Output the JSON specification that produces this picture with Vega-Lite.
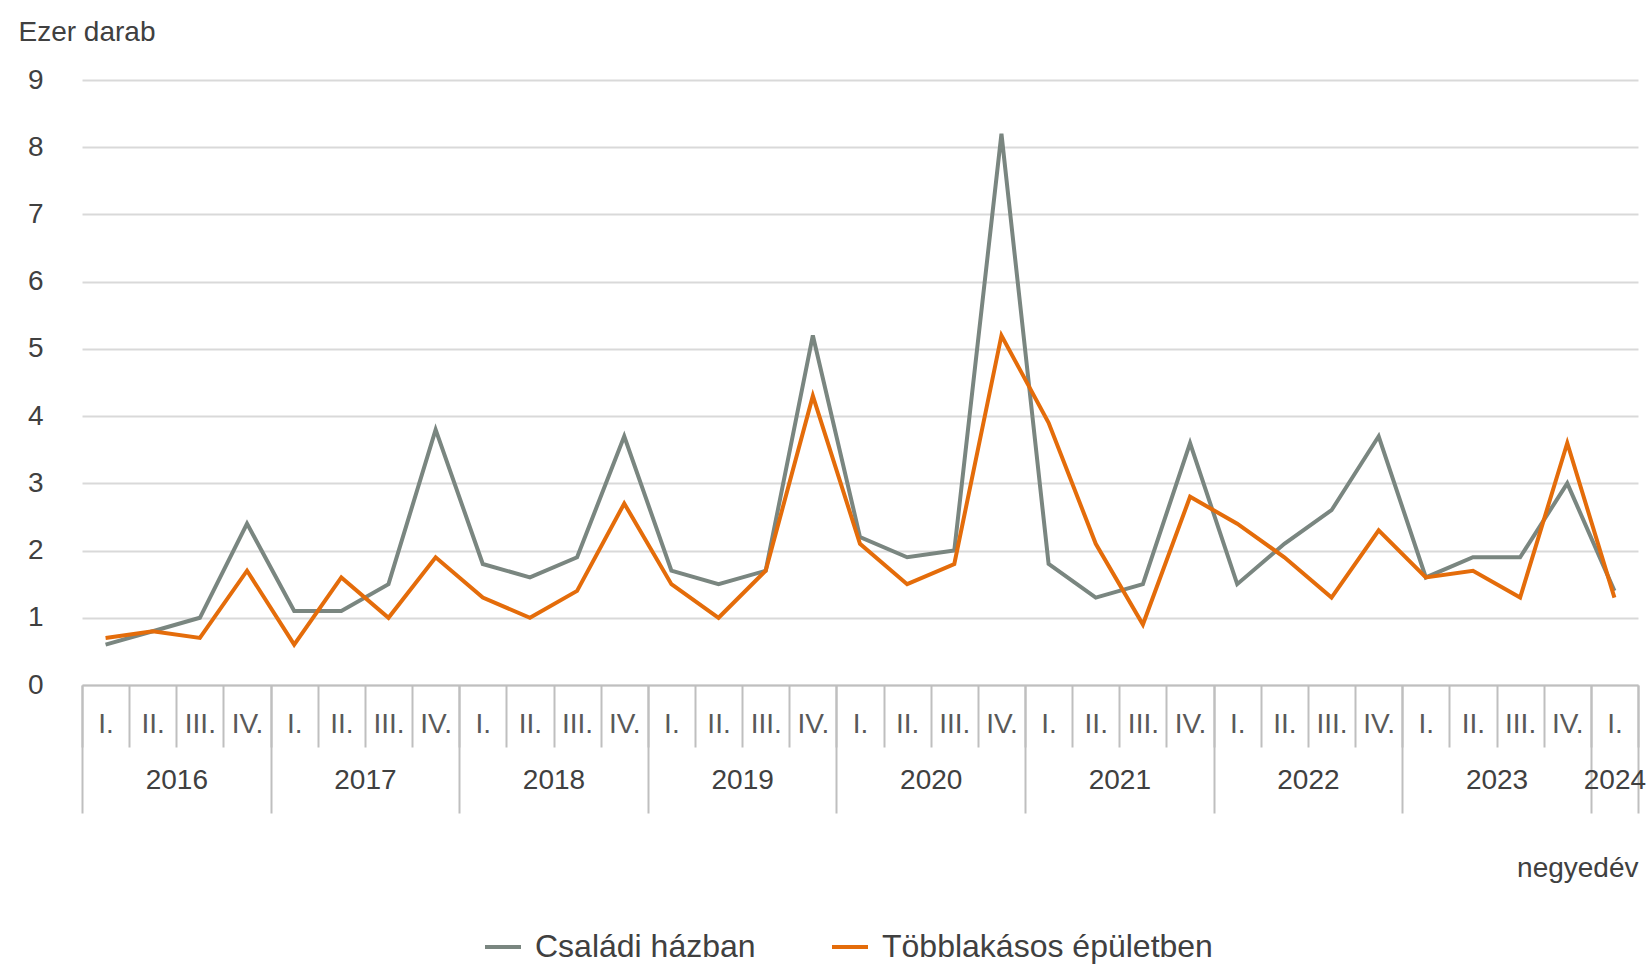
{
  "$schema": "https://vega.github.io/schema/vega-lite/v6.json",
  "width": 1556,
  "height": 605,
  "autosize": {"type": "none"},
  "padding": {"left": 82, "top": 80, "right": 10, "bottom": 286},
  "background": "#ffffff",
  "config": {
    "font": "Liberation Sans",
    "view": {"stroke": null},
    "axis": {"labelFont": "Liberation Sans", "titleFont": "Liberation Sans"}
  },
  "data": {
    "values": [
      {"i": 0, "sorozat": "Családi házban", "ertek": 0.6},
      {"i": 1, "sorozat": "Családi házban", "ertek": 0.8},
      {"i": 2, "sorozat": "Családi házban", "ertek": 1.0},
      {"i": 3, "sorozat": "Családi házban", "ertek": 2.4},
      {"i": 4, "sorozat": "Családi házban", "ertek": 1.1},
      {"i": 5, "sorozat": "Családi házban", "ertek": 1.1},
      {"i": 6, "sorozat": "Családi házban", "ertek": 1.5},
      {"i": 7, "sorozat": "Családi házban", "ertek": 3.8},
      {"i": 8, "sorozat": "Családi házban", "ertek": 1.8},
      {"i": 9, "sorozat": "Családi házban", "ertek": 1.6},
      {"i": 10, "sorozat": "Családi házban", "ertek": 1.9},
      {"i": 11, "sorozat": "Családi házban", "ertek": 3.7},
      {"i": 12, "sorozat": "Családi házban", "ertek": 1.7},
      {"i": 13, "sorozat": "Családi házban", "ertek": 1.5},
      {"i": 14, "sorozat": "Családi házban", "ertek": 1.7},
      {"i": 15, "sorozat": "Családi házban", "ertek": 5.2},
      {"i": 16, "sorozat": "Családi házban", "ertek": 2.2},
      {"i": 17, "sorozat": "Családi házban", "ertek": 1.9},
      {"i": 18, "sorozat": "Családi házban", "ertek": 2.0},
      {"i": 19, "sorozat": "Családi házban", "ertek": 8.2},
      {"i": 20, "sorozat": "Családi házban", "ertek": 1.8},
      {"i": 21, "sorozat": "Családi házban", "ertek": 1.3},
      {"i": 22, "sorozat": "Családi házban", "ertek": 1.5},
      {"i": 23, "sorozat": "Családi házban", "ertek": 3.6},
      {"i": 24, "sorozat": "Családi házban", "ertek": 1.5},
      {"i": 25, "sorozat": "Családi házban", "ertek": 2.1},
      {"i": 26, "sorozat": "Családi házban", "ertek": 2.6},
      {"i": 27, "sorozat": "Családi házban", "ertek": 3.7},
      {"i": 28, "sorozat": "Családi házban", "ertek": 1.6},
      {"i": 29, "sorozat": "Családi házban", "ertek": 1.9},
      {"i": 30, "sorozat": "Családi házban", "ertek": 1.9},
      {"i": 31, "sorozat": "Családi házban", "ertek": 3.0},
      {"i": 32, "sorozat": "Családi házban", "ertek": 1.4},
      {"i": 0, "sorozat": "Többlakásos épületben", "ertek": 0.7},
      {"i": 1, "sorozat": "Többlakásos épületben", "ertek": 0.8},
      {"i": 2, "sorozat": "Többlakásos épületben", "ertek": 0.7},
      {"i": 3, "sorozat": "Többlakásos épületben", "ertek": 1.7},
      {"i": 4, "sorozat": "Többlakásos épületben", "ertek": 0.6},
      {"i": 5, "sorozat": "Többlakásos épületben", "ertek": 1.6},
      {"i": 6, "sorozat": "Többlakásos épületben", "ertek": 1.0},
      {"i": 7, "sorozat": "Többlakásos épületben", "ertek": 1.9},
      {"i": 8, "sorozat": "Többlakásos épületben", "ertek": 1.3},
      {"i": 9, "sorozat": "Többlakásos épületben", "ertek": 1.0},
      {"i": 10, "sorozat": "Többlakásos épületben", "ertek": 1.4},
      {"i": 11, "sorozat": "Többlakásos épületben", "ertek": 2.7},
      {"i": 12, "sorozat": "Többlakásos épületben", "ertek": 1.5},
      {"i": 13, "sorozat": "Többlakásos épületben", "ertek": 1.0},
      {"i": 14, "sorozat": "Többlakásos épületben", "ertek": 1.7},
      {"i": 15, "sorozat": "Többlakásos épületben", "ertek": 4.3},
      {"i": 16, "sorozat": "Többlakásos épületben", "ertek": 2.1},
      {"i": 17, "sorozat": "Többlakásos épületben", "ertek": 1.5},
      {"i": 18, "sorozat": "Többlakásos épületben", "ertek": 1.8},
      {"i": 19, "sorozat": "Többlakásos épületben", "ertek": 5.2},
      {"i": 20, "sorozat": "Többlakásos épületben", "ertek": 3.9},
      {"i": 21, "sorozat": "Többlakásos épületben", "ertek": 2.1},
      {"i": 22, "sorozat": "Többlakásos épületben", "ertek": 0.9},
      {"i": 23, "sorozat": "Többlakásos épületben", "ertek": 2.8},
      {"i": 24, "sorozat": "Többlakásos épületben", "ertek": 2.4},
      {"i": 25, "sorozat": "Többlakásos épületben", "ertek": 1.9},
      {"i": 26, "sorozat": "Többlakásos épületben", "ertek": 1.3},
      {"i": 27, "sorozat": "Többlakásos épületben", "ertek": 2.3},
      {"i": 28, "sorozat": "Többlakásos épületben", "ertek": 1.6},
      {"i": 29, "sorozat": "Többlakásos épületben", "ertek": 1.7},
      {"i": 30, "sorozat": "Többlakásos épületben", "ertek": 1.3},
      {"i": 31, "sorozat": "Többlakásos épületben", "ertek": 3.6},
      {"i": 32, "sorozat": "Többlakásos épületben", "ertek": 1.3}
    ]
  },
  "resolve": {"axis": {"x": "independent"}},
  "layer": [
    {
      "mark": {"type": "rule", "opacity": 0},
      "encoding": {
        "x": {
          "field": "i", "type": "quantitative",
          "scale": {"domain": [-0.5, 32.5], "nice": false, "zero": false},
          "axis": {
            "orient": "bottom", "values": [-0.5, 0.5, 1.5, 2.5, 3.5, 4.5, 5.5, 6.5, 7.5, 8.5, 9.5, 10.5, 11.5, 12.5, 13.5, 14.5, 15.5, 16.5, 17.5, 18.5, 19.5, 20.5, 21.5, 22.5, 23.5, 24.5, 25.5, 26.5, 27.5, 28.5, 29.5, 30.5, 31.5, 32.5],
            "labels": false, "domain": false, "grid": false,
            "ticks": true, "tickSize": 62, "tickColor": "#bfbfbf", "tickWidth": 2,
            "title": null
          }
        }
      }
    },
    {
      "mark": {"type": "rule", "opacity": 0},
      "encoding": {
        "x": {
          "field": "i", "type": "quantitative",
          "axis": {
            "orient": "bottom", "values": [-0.5, 3.5, 7.5, 11.5, 15.5, 19.5, 23.5, 27.5, 31.5, 32.5],
            "labels": false, "domain": false, "grid": false,
            "ticks": true, "tickSize": 128, "tickColor": "#bfbfbf", "tickWidth": 2,
            "title": null
          }
        }
      }
    },
    {
      "mark": {"type": "rule", "opacity": 0},
      "encoding": {
        "x": {
          "field": "i", "type": "quantitative",
          "axis": {
            "orient": "bottom", "values": [1.5, 5.5, 9.5, 13.5, 17.5, 21.5, 25.5, 29.5, 32],
            "labelExpr": "'' + (2016 + floor(datum.value / 4))",
            "ticks": false, "domain": false, "grid": false,
            "labelPadding": 95, "labelBaseline": "middle", "labelFontSize": 28,
            "labelColor": "#404040", "labelFlush": false, "labelOverlap": false, "labelBound": false,
            "title": null
          }
        }
      }
    },
    {
      "mark": {"type": "line", "strokeWidth": 4},
      "encoding": {
        "x": {
          "field": "i", "type": "quantitative",
          "axis": {
            "orient": "bottom", "values": [0, 1, 2, 3, 4, 5, 6, 7, 8, 9, 10, 11, 12, 13, 14, 15, 16, 17, 18, 19, 20, 21, 22, 23, 24, 25, 26, 27, 28, 29, 30, 31, 32],
            "labelExpr": "['I.', 'II.', 'III.', 'IV.'][datum.value % 4]",
            "ticks": false, "domain": true, "domainColor": "#bfbfbf", "domainWidth": 2, "grid": false,
            "labelPadding": 39, "labelBaseline": "middle", "labelFontSize": 28,
            "labelColor": "#595959", "labelFlush": false, "labelOverlap": false, "labelBound": false,
            "title": "negyedév", "titleFontSize": 28, "titleFontWeight": "normal", "titleColor": "#404040",
            "titleX": 1556, "titleY": 183, "titleAlign": "right", "titleBaseline": "middle"
          }
        },
        "y": {
          "field": "ertek", "type": "quantitative",
          "scale": {"domain": [0, 9], "nice": false},
          "axis": {
            "values": [0, 1, 2, 3, 4, 5, 6, 7, 8, 9],
            "grid": true, "gridColor": "#d9d9d9", "gridWidth": 2,
            "domain": false, "ticks": false,
            "labelPadding": 39, "labelFontSize": 28, "labelColor": "#404040",
            "labelBaseline": "middle",
            "title": "Ezer darab", "titleAngle": 0, "titleFontSize": 28, "titleFontWeight": "normal",
            "titleColor": "#404040", "titleX": -64, "titleY": -48, "titleAlign": "left", "titleBaseline": "middle"
          }
        },
        "color": {
          "field": "sorozat", "type": "nominal",
          "scale": {"domain": ["Családi házban", "Többlakásos épületben"], "range": ["#7a8680", "#e46c0a"]},
          "legend": {
            "orient": "none", "legendX": 401, "legendY": 847, "direction": "horizontal",
            "title": null, "symbolType": "stroke", "symbolSize": 1296, "symbolStrokeWidth": 4,
            "labelFontSize": 32, "labelColor": "#404040", "labelOffset": 12, "columnPadding": 68,
            "labelLimit": 0, "labelFont": "Liberation Sans"
          }
        }
      }
    }
  ]
}
